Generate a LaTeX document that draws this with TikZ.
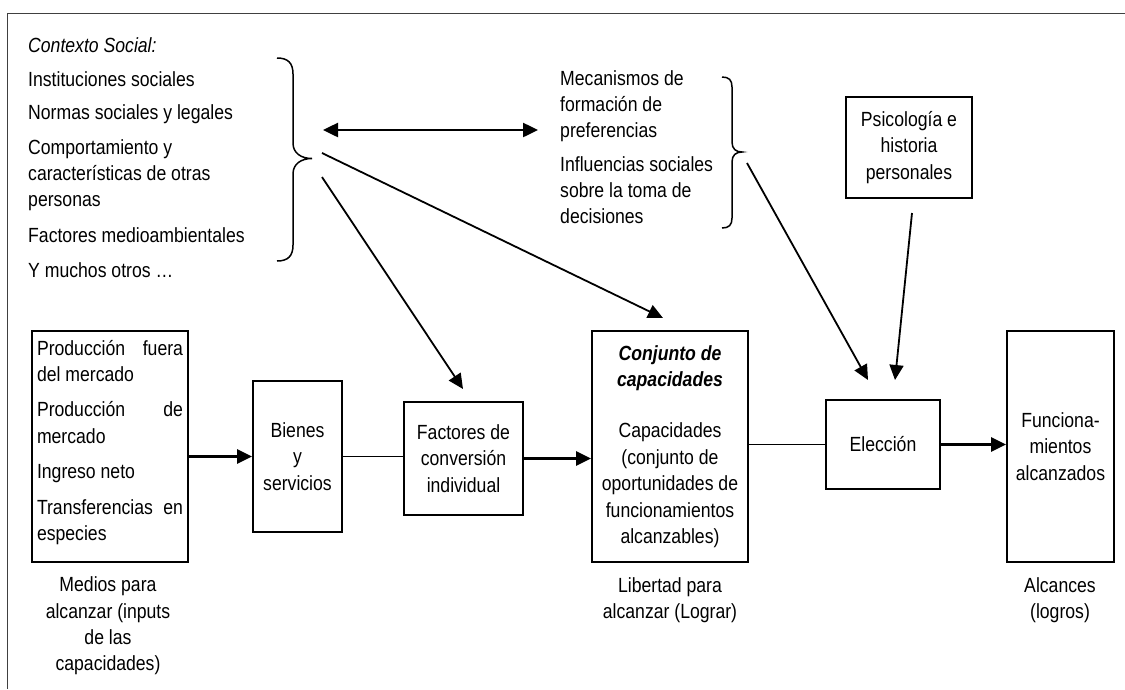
\documentclass[tikz,border=0pt]{standalone}
\usepackage{fontspec}
\setmainfont{Liberation Sans}[FakeStretch=0.86]
\usetikzlibrary{arrows.meta,calc}
\tikzset{
  txt/.style={font=\fontsize{20.5}{26.4}\selectfont, inner sep=0pt},
  box/.style={draw, line width=1.8pt, font=\fontsize{20.5}{26.4}\selectfont, align=center, inner sep=0pt},
  thickarrow/.style={line width=2.5pt, -{Triangle[length=15pt,width=14pt]}},
  diagarrow/.style={line width=1.8pt, -{Triangle[length=15pt,width=14pt]}},
  plainline/.style={line width=1.5pt},
  bracestyle/.style={line width=1.5pt},
  framestyle/.style={line width=1pt, black!75},
}
\begin{document}
\begin{tikzpicture}[x=1pt,y=-1pt]
\useasboundingbox (0,0) rectangle (1125,689);
\fill[white] (0,0) rectangle (1125,689);
\draw[framestyle] (1125,13) -- (7,13) -- (7,689);

% left list
\foreach \t/\y [count=\i] in {{\textit{Contexto Social:}}/52, Instituciones sociales/86, Normas sociales y legales/119, Comportamiento y/154, características de otras/180, personas/206, Factores medioambientales/242, Y muchos otros …/277}
  \node[txt, anchor=base west] (ctx\i) at (28,\y) {\t};

% middle list
\foreach \t/\y [count=\i] in {Mecanismos de/85, formación de/111, preferencias/137, Influencias sociales/171, sobre la toma de/197, decisiones/223}
  \node[txt, anchor=base west] (mec\i) at (560,\y) {\t};

% braces
\draw[bracestyle] (277,58) .. controls (288,58) and (293,63) .. (293,74) -- (293,143) .. controls (293,153) and (301,158.5) .. (312,158.5) .. controls (301,158.5) and (293,164) .. (293,174) -- (293,245) .. controls (293,256) and (288,261) .. (277,261);
\draw[bracestyle] (722,77) .. controls (729,77) and (732,80) .. (732,87) -- (732,142) .. controls (732,149) and (736,152) .. (742,152) .. controls (736,152) and (732,155) .. (732,162) -- (732,218) .. controls (732,225) and (729,228) .. (722,228);

% boxes
\node[box, minimum width=156pt, minimum height=231pt] (medios) at (110,446.5)
 {\parbox[c][231pt][t]{146pt}{\rule{0pt}{24pt}\makebox[146pt][s]{Producción fuera}\\
 del mercado\\[9pt]
 \makebox[146pt][s]{Producción de}\\
 mercado\\[9pt]
 Ingreso neto\\[9pt]
 \makebox[146pt][s]{Transferencias en}\\
 especies}};
\node[box, minimum width=89pt, minimum height=151pt] (bienes) at (297.5,456.5) {Bienes\\y\\servicios};
\node[box, minimum width=119pt, minimum height=113pt] (factores) at (463.5,458.5) {Factores de\\conversión\\individual};
\node[box, minimum width=156pt, minimum height=231pt] (conj) at (670,446.5)
 {\textbf{\textit{Conjunto de}}\\\textbf{\textit{capacidades}}\\[25pt]Capacidades\\(conjunto de\\oportunidades de\\funcionamientos\\alcanzables)};
\node[box, minimum width=114pt, minimum height=89pt] (elec) at (883,444.5) {Elección};
\node[box, minimum width=107pt, minimum height=231pt] (func) at (1060.5,446.5) {Funciona-\\mientos\\alcanzados};
\node[box, minimum width=126pt, minimum height=101pt] (psico) at (909,147.5) {Psicología e\\historia\\personales};

% labels below
\node[txt, align=center] (medioslbl) at (108,626) {Medios para\\alcanzar (inputs\\de las\\capacidades)};
\node[txt, align=center] (liblbl) at (670,600) {Libertad para\\alcanzar (Lograr)};
\node[txt, align=center] (alclbl) at (1060,600) {Alcances\\(logros)};

% free ends
\coordinate (d1s) at (323,130);
\coordinate (d1e) at (538,130);
\coordinate (b1a) at (322,153);
\coordinate (tconj) at (663,318);
\coordinate (b1b) at (322,177);
\coordinate (tfac) at (463,389);
\coordinate (b2s) at (747,163);
\coordinate (telec1) at (868,380);
\coordinate (psis) at (912,213);
\coordinate (telec2) at (895,380);

% connectors
\draw[line width=2.5pt, {Triangle[length=15pt,width=14pt]}-{Triangle[length=15pt,width=14pt]}] (d1s) -- (d1e);
\draw[diagarrow] (b1a) -- (tconj);
\draw[diagarrow] (b1b) -- (tfac);
\draw[diagarrow] (b2s) -- (telec1);
\draw[diagarrow] (psis) -- (telec2);
\draw[thickarrow] (medios.east |- bienes.west) -- (bienes.west);
\draw[plainline] (bienes.east) -- (factores.west |- bienes.east);
\draw[thickarrow] (factores.east) -- (conj.west |- factores.east);
\draw[plainline] (conj.east |- elec.west) -- (elec.west);
\draw[thickarrow] (elec.east) -- (func.west |- elec.east);
\end{tikzpicture}
\end{document}
